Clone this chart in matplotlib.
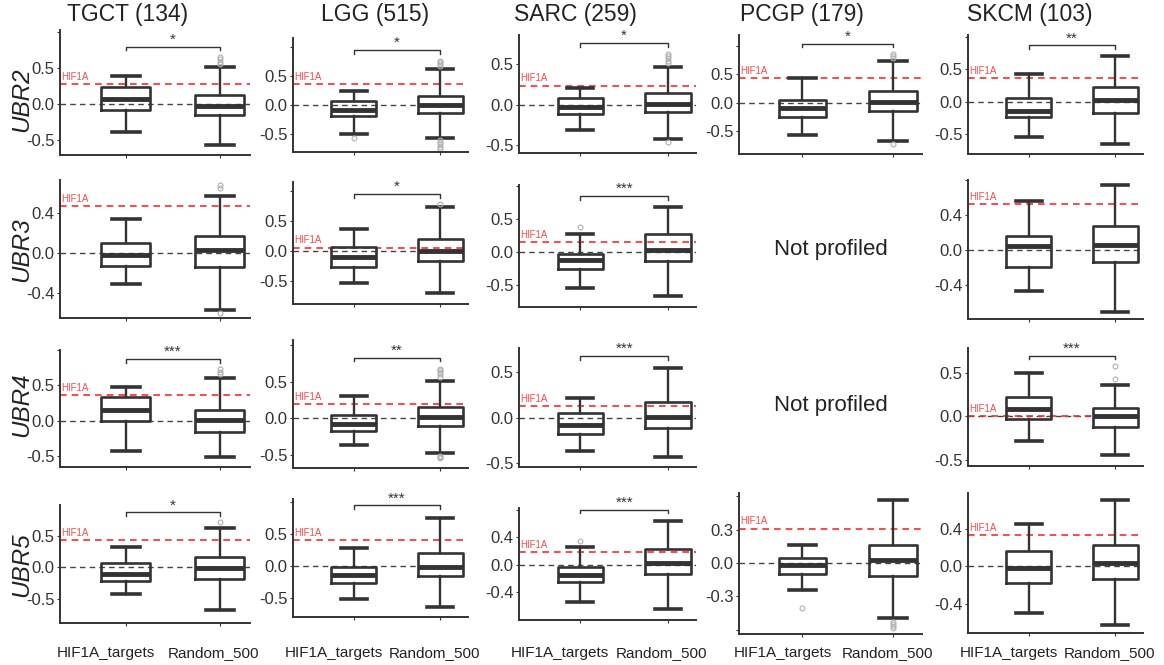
import matplotlib
matplotlib.use("Agg")
from matplotlib import pyplot as plt

plt.rcParams['font.family'] = ['Liberation Sans', 'DejaVu Sans']

# Data.
cancers = ["TGCT (134)", "LGG (515)", "SARC (259)", "PCGP (179)", "SKCM (103)"]
genes = ["UBR2", "UBR3", "UBR4", "UBR5"]
groups = ["HIF1A_targets", "Random_500"]

# box stats per cancer: [whislo, q1, med, q3, whishi]; None = not profiled
ubr2_targets = [[-0.39, -0.08, 0.065, 0.23, 0.39], [-0.50, -0.19, -0.09, 0.07, 0.25],
                [-0.32, -0.115, -0.03, 0.08, 0.21], [-0.57, -0.245, -0.10, 0.05, 0.44],
                [-0.55, -0.245, -0.14, 0.05, 0.43]]
ubr2_random = [[-0.57, -0.15, -0.03, 0.13, 0.52], [-0.56, -0.14, 0.0, 0.16, 0.62],
               [-0.43, -0.09, 0.01, 0.14, 0.47], [-0.67, -0.15, 0.02, 0.21, 0.73],
               [-0.65, -0.18, 0.03, 0.22, 0.70]]
ubr2_targets_out = [[], [-0.56], [], [], []]
ubr2_random_out = [[0.56, 0.59, 0.62, 0.65],
                   [-0.60, -0.64, -0.68, -0.72, -0.76, 0.68, 0.71, 0.74, 0.77],
                   [-0.47, 0.51, 0.54, 0.57, 0.60, 0.62], [-0.72, 0.78, 0.82, 0.85], []]
ubr2_hif1a = [0.28, 0.37, 0.235, 0.43, 0.36]
ubr2_sig = ["*", "*", "*", "*", "**"]

ubr3_targets = [[-0.31, -0.13, -0.017, 0.10, 0.34], [-0.53, -0.27, -0.105, 0.07, 0.36],
                [-0.55, -0.27, -0.13, -0.035, 0.27], None,
                [-0.47, -0.20, 0.046, 0.164, 0.56]]
ubr3_random = [[-0.57, -0.14, 0.027, 0.167, 0.57], [-0.70, -0.17, 0.0, 0.20, 0.74],
               [-0.67, -0.15, 0.025, 0.27, 0.68], None,
               [-0.71, -0.14, 0.054, 0.27, 0.74]]
ubr3_targets_out = [[], [], [0.37], [], []]
ubr3_random_out = [[-0.60, 0.65, 0.68], [0.78], [], [], []]
ubr3_hif1a = [0.47, 0.06, 0.15, None, 0.53]
ubr3_sig = ["", "*", "***", "", ""]

ubr4_targets = [[-0.42, -0.005, 0.16, 0.335, 0.48], [-0.37, -0.18, -0.08, 0.045, 0.31],
                [-0.36, -0.18, -0.085, 0.05, 0.21], None,
                [-0.275, -0.03, 0.088, 0.22, 0.49]]
ubr4_random = [[-0.51, -0.15, 0.01, 0.16, 0.61], [-0.48, -0.105, 0.014, 0.15, 0.51],
               [-0.43, -0.115, 0.007, 0.17, 0.54], None,
               [-0.44, -0.126, 0.0, 0.095, 0.36]]
ubr4_targets_out = [[], [], [], [], []]
ubr4_random_out = [[0.66, 0.69, 0.73],
                   [-0.51, -0.53, -0.55, 0.57, 0.60, 0.63, 0.66, 0.68], [], [], [0.43, 0.57]]
ubr4_hif1a = [0.37, 0.195, 0.125, None, 0.0]
ubr4_sig = ["***", "**", "***", "", "***"]

ubr5_targets = [[-0.43, -0.21, -0.10, 0.064, 0.32], [-0.52, -0.26, -0.14, -0.01, 0.28],
                [-0.55, -0.255, -0.15, -0.035, 0.255], [-0.24, -0.096, -0.015, 0.045, 0.16],
                [-0.50, -0.18, -0.02, 0.166, 0.45]]
ubr5_random = [[-0.68, -0.19, -0.016, 0.16, 0.63], [-0.64, -0.15, -0.01, 0.21, 0.75],
               [-0.65, -0.13, 0.025, 0.23, 0.64], [-0.50, -0.114, 0.024, 0.165, 0.57],
               [-0.63, -0.13, 0.035, 0.23, 0.71]]
ubr5_targets_out = [[], [], [0.35], [-0.405], []]
ubr5_random_out = [[0.72], [], [], [-0.53, -0.55, -0.57, -0.585], []]
ubr5_hif1a = [0.44, 0.41, 0.18, 0.31, 0.335]
ubr5_sig = ["*", "***", "***", "", ""]

targets = [ubr2_targets, ubr3_targets, ubr4_targets, ubr5_targets]
randoms = [ubr2_random, ubr3_random, ubr4_random, ubr5_random]
targets_out = [ubr2_targets_out, ubr3_targets_out, ubr4_targets_out, ubr5_targets_out]
randoms_out = [ubr2_random_out, ubr3_random_out, ubr4_random_out, ubr5_random_out]
hif1a = [ubr2_hif1a, ubr3_hif1a, ubr4_hif1a, ubr5_hif1a]
sigs = [ubr2_sig, ubr3_sig, ubr4_sig, ubr5_sig]

# Layout (pixels) and per-panel axis settings
W, H = 1164, 665
col_x = [(60, 250), (293, 468), (519, 696), (739, 922), (968, 1143)]
title_x = [128, 375, 575, 802, 1030]
row_y = [[(30, 155), (38, 152), (35, 153), (35, 154), (35, 154)],
         [(180, 318), (182, 304), (185, 307), None, (180, 319)],
         [(350, 467), (340, 468), (348, 467), None, (348, 466)],
         [(505, 623), (499, 617), (508, 620), (493, 634), (493, 633)]]
ylims = [[(-0.71, 1.03), (-0.81, 1.16), (-0.60, 0.86), (-0.90, 1.19), (-0.81, 1.03)],
         [(-0.65, 0.73), (-0.88, 1.15), (-0.84, 1.01), None, (-0.79, 0.80)],
         [(-0.65, 0.99), (-0.68, 1.07), (-0.54, 0.76), None, (-0.565, 0.78)],
         [(-0.89, 1.0), (-0.80, 1.05), (-0.81, 0.83), (-0.64, 0.63), (-0.71, 0.78)]]
yticks = [[[-0.5, 0, 0.5, 1.0], [-0.5, 0, 0.5, 1.0], [-0.5, 0, 0.5], [-0.5, 0, 0.5, 1.0], [-0.5, 0, 0.5, 1.0]],
          [[-0.4, 0, 0.4], [-0.5, 0, 0.5, 1.0], [-0.5, 0, 0.5, 1.0], None, [-0.4, 0, 0.4, 0.8]],
          [[-0.5, 0, 0.5, 1.0], [-0.5, 0, 0.5, 1.0], [-0.5, 0, 0.5], None, [-0.5, 0, 0.5]],
          [[-0.5, 0, 0.5], [-0.5, 0, 0.5, 1.0], [-0.4, 0, 0.4, 0.8], [-0.6, -0.3, 0, 0.3, 0.6], [-0.4, 0, 0.4]]]
bracket_y = [[0.80, 0.95, 0.76, 1.04, 0.87],
             [None, 0.95, 0.84, None, None],
             [0.87, 0.83, 0.67, None, 0.69],
             [0.88, 0.95, 0.80, None, None]]
row_label_y = [100, 250, 405, 565]
group_label_y = 657
group_label_dx = [-20, -6]

dark = "#333333"
fig = plt.figure(figsize=(W / 100, H / 100), dpi=100)

for r in range(4):
    fig.text(22 / W, 1 - row_label_y[r] / H, genes[r], rotation=90, style='italic',
             fontsize=17.5, ha='center', va='center', color='#222222')
    for c in range(5):
        x0, x1 = col_x[c]
        if row_y[r][c] is None:
            fig.text((x0 + x1) / 2 / W, 1 - row_label_y[r] / H, "Not profiled",
                     fontsize=16, ha='center', va='center', color='#222222')
            continue
        yt, yb = row_y[r][c]
        ax = fig.add_axes([x0 / W, 1 - yb / H, (x1 - x0) / W, (yb - yt) / H])
        stats = []
        for s, out in [(targets[r][c], targets_out[r][c]), (randoms[r][c], randoms_out[r][c])]:
            stats.append(dict(whislo=s[0], q1=s[1], med=s[2], q3=s[3], whishi=s[4], fliers=out))
        ax.bxp(stats, positions=[1, 2], widths=0.52, capwidths=0.3, showfliers=True,
               boxprops=dict(color=dark, linewidth=1.9),
               medianprops=dict(color=dark, linewidth=3.5),
               whiskerprops=dict(color=dark, linewidth=1.7),
               capprops=dict(color=dark, linewidth=2.6),
               flierprops=dict(marker='o', markersize=3.5, markerfacecolor='none',
                               markeredgecolor='#b0b0b0', markeredgewidth=0.8))
        ax.axhline(0, color='#444444', linestyle=(0, (4, 3)), linewidth=1.0, zorder=0)
        ax.axhline(hif1a[r][c], color='#ff2a2a', linestyle=(0, (4, 3)), linewidth=1.2, zorder=0)
        ax.annotate("HIF1A", xy=(0.31, hif1a[r][c]), xytext=(0, 1.5), textcoords='offset points',
                    fontsize=7, color='#ff4a4a', ha='left', va='bottom')
        if sigs[r][c]:
            by = bracket_y[r][c]
            tick = (ylims[r][c][1] - ylims[r][c][0]) * 0.03
            ax.plot([1, 1, 2, 2], [by - tick, by, by, by - tick], color=dark, linewidth=1.0)
            ax.text(1.5, by, sigs[r][c], ha='center', va='bottom', fontsize=11, color=dark)
        ax.set_xlim(0.3, 2.32)
        ax.set_ylim(*ylims[r][c])
        ticks = yticks[r][c]
        ax.set_yticks(ticks)
        ax.set_yticklabels([f"{v + 0.0:.1f}" if abs(v) < 0.55 else "" for v in ticks])
        ax.set_xticks([1, 2])
        ax.set_xticklabels(["", ""])
        if r == 3:
            for pos, name, dx in zip([1, 2], groups, group_label_dx):
                ax.annotate(name, xy=(pos, 0), xycoords=('data', 'axes fraction'),
                            xytext=(dx, -(group_label_y - yb)), textcoords='offset pixels',
                            ha='center', va='baseline', fontsize=11, color='#222222',
                            annotation_clip=False)
        ax.tick_params(axis='both', length=2.5, width=0.8, color=dark)
        ax.tick_params(axis='y', labelsize=12, labelcolor='#333333', pad=1.5)
        for side in ['top', 'right']:
            ax.spines[side].set_visible(False)
        for side in ['left', 'bottom']:
            ax.spines[side].set_color(dark)
            ax.spines[side].set_linewidth(1.4)
        ax.patch.set_alpha(0)
        if r == 0:
            fig.text(title_x[c] / W, 1 - 14 / H, cancers[c], fontsize=16.5,
                     ha='center', va='center', color='#222222')

fig.savefig("out.png", dpi=100)
